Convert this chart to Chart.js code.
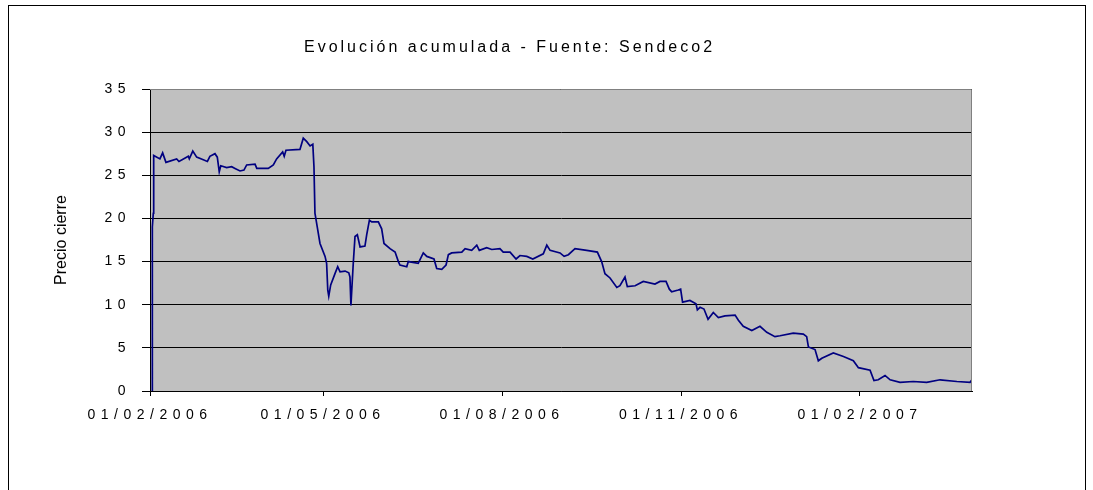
<!DOCTYPE html>
<html lang="es">
<head>
<meta charset="utf-8">
<title>Evolución acumulada - Fuente: Sendeco2</title>
<script src="https://cdn.jsdelivr.net/npm/chart.js@4.4.1/dist/chart.umd.min.js"></script>
<style>
  html, body { margin: 0; padding: 0; background: #fff; }
  canvas { display: block; }
</style>
</head>
<body>
<canvas id="grafico" width="1093" height="490"></canvas>
<script>
// Días transcurridos desde el 01/02/2006
var dias = [1.2, 1.2, 1.7, 1.9, 5.1, 6.5, 8.2, 13.7, 14.9, 19.7, 20.2, 22.0, 24.0, 27.4, 29.5, 30.8, 33.4, 34.6, 35.6, 36.4,
    39.4, 42.0, 43.7, 46.3, 48.3, 49.7, 54.0, 54.9, 60.8, 63.4, 65.1, 68.2, 69.0, 69.9, 77.1, 78.8, 80.6, 82.3, 83.7, 84.3,
    84.8, 86.0, 87.4, 90.0, 90.8, 91.4, 91.9, 92.9, 95.1, 96.5, 97.7, 100.3, 102.2, 102.8, 103.3, 104.5, 105.4, 106.6, 108.0, 110.5,
    111.4, 112.8, 114.0, 117.4, 119.1, 120.3, 123.4, 126.0, 127.7, 128.5, 132.0, 132.8, 137.9, 140.5, 142.3, 146.0, 147.4, 150.0, 152.2, 153.4,
    155.1, 160.3, 162.0, 165.4, 168.0, 169.3, 173.1, 175.7, 179.9, 181.6, 185.1, 188.2, 190.2, 193.7, 196.8, 202.2, 204.0, 205.7, 210.8, 212.9,
    215.1, 218.5, 224.5, 230.0, 232.2, 233.9, 236.5, 240.0, 241.6, 244.2, 245.4, 249.4, 253.6, 259.6, 262.2, 265.3, 267.0, 268.2, 271.6, 272.8,
    273.8, 277.6, 280.7, 281.4, 282.8, 284.8, 286.9, 289.6, 292.2, 295.6, 300.8, 302.5, 305.0, 309.4, 313.6, 317.1, 321.3, 323.9, 330.7, 335.9,
    337.6, 338.5, 341.9, 343.6, 345.4, 351.3, 356.5, 361.6, 364.2, 370.2, 372.2, 374.4, 377.9, 380.5, 385.6, 392.4, 399.3, 406.2, 414.8, 421.6,
    422.6];

// Precio de cierre en cada uno de esos días
var precios = [0, 19.0, 20.6, 27.3, 26.9, 27.6, 26.5, 26.9, 26.6, 27.2, 26.9, 27.8, 27.1, 26.8, 26.6, 27.2, 27.5, 27.1, 25.4, 26.1,
    25.9, 26.0, 25.8, 25.5, 25.6, 26.2, 26.3, 25.8, 25.8, 26.2, 26.9, 27.7, 27.2, 27.9, 28.0, 29.3, 28.9, 28.4, 28.6, 26.0,
    20.6, 19.0, 17.1, 15.6, 14.8, 11.7, 11.0, 12.3, 13.6, 14.4, 13.8, 13.9, 13.7, 13.2, 9.9, 14.8, 17.9, 18.1, 16.7, 16.8,
    18.1, 19.8, 19.6, 19.6, 18.8, 17.1, 16.5, 16.1, 15.0, 14.6, 14.4, 15.0, 14.8, 16.0, 15.6, 15.3, 14.2, 14.1, 14.6, 15.8,
    16.0, 16.1, 16.5, 16.3, 16.9, 16.3, 16.6, 16.4, 16.5, 16.1, 16.1, 15.3, 15.7, 15.6, 15.3, 15.9, 16.9, 16.3, 16.0, 15.6,
    15.8, 16.5, 16.3, 16.1, 15.0, 13.6, 13.1, 12.0, 12.2, 13.2, 12.1, 12.2, 12.7, 12.4, 12.7, 12.7, 11.8, 11.5, 11.7, 11.8,
    10.3, 10.5, 10.1, 9.4, 9.7, 9.5, 8.3, 9.1, 8.5, 8.7, 8.8, 8.2, 7.5, 7.0, 7.5, 6.8, 6.3, 6.4, 6.7, 6.6,
    6.3, 5.1, 4.8, 3.5, 3.8, 4.4, 4.0, 3.5, 2.7, 2.4, 1.2, 1.3, 1.8, 1.3, 1.0, 1.1, 1.0, 1.3, 1.1, 1.0,
    1.3];

// Marcas del eje de fechas
var diasEtiqueta = [0, 89, 181, 273, 365];
var etiquetasFecha = ['01/02/2006', '01/05/2006', '01/08/2006', '01/11/2006', '01/02/2007'];

var fuente = '"Liberation Sans", Arial, sans-serif';
Chart.defaults.font.family = fuente;
Chart.defaults.color = '#000';

// Fondo gris del área, marco exterior y título del eje vertical
var pluginFondo = {
    id: 'fondo',
    beforeDraw: function(chart) {
        var ctx = chart.ctx;
        var a = chart.chartArea;
        ctx.save();
        ctx.fillStyle = '#c0c0c0';
        ctx.fillRect(a.left, a.top, a.right - a.left, a.bottom - a.top);
        ctx.restore();
        // las etiquetas de los ejes van espaciadas
        ctx.letterSpacing = '5.5px';
    },
    afterDraw: function(chart) {
        var ctx = chart.ctx;
        var a = chart.chartArea;
        ctx.letterSpacing = '0px';
        ctx.save();
        ctx.strokeStyle = '#808080';
        ctx.lineWidth = 1;
        ctx.beginPath();
        ctx.moveTo(a.left, a.top + 0.5);
        ctx.lineTo(a.right - 0.5, a.top + 0.5);
        ctx.lineTo(a.right - 0.5, a.bottom);
        ctx.stroke();
        ctx.strokeStyle = '#000';
        ctx.strokeRect(8.5, 5.5, 1077, 600);
        ctx.translate(62, 240);
        ctx.rotate(-Math.PI / 2);
        ctx.font = '16px ' + fuente;
        ctx.textAlign = 'center';
        ctx.textBaseline = 'middle';
        ctx.fillStyle = '#000';
        ctx.fillText('Precio cierre', 0, 0);
        ctx.restore();
    }
};

var puntos = dias.map(function(d, i) {
    return { x: d, y: precios[i] };
});

var configuracion = {
    type: 'line',
    data: {
        datasets: [{
            label: 'Precio cierre',
            data: puntos,
            borderColor: '#000080',
            borderWidth: 1.7,
            pointRadius: 0,
            tension: 0,
            fill: false
        }]
    },
    options: {
        responsive: false,
        animation: false,
        layout: { padding: { top: 38, left: 100, right: 121, bottom: 49 } },
        plugins: {
            legend: { display: false },
            tooltip: { enabled: false },
            title: {
                display: true,
                text: 'Evolución acumulada - Fuente: Sendeco2',
                font: { size: 16, weight: 'normal' },
                color: '#000',
                padding: { top: 0, bottom: 31.8 }
            }
        },
        scales: {
            x: {
                type: 'linear',
                min: 0,
                max: 422.6,
                afterBuildTicks: function(scale) {
                    scale.ticks = diasEtiqueta.map(function(v) { return { value: v }; });
                },
                afterFit: function(scale) { scale.height = 50; },
                grid: { drawOnChartArea: false, drawTicks: true, tickLength: 5, color: '#000' },
                border: { display: true, color: '#000' },
                ticks: {
                    autoSkip: false,
                    maxRotation: 0,
                    padding: 11,
                    font: { size: 14 },
                    callback: function(value) {
                        var i = diasEtiqueta.indexOf(value);
                        return i >= 0 ? etiquetasFecha[i] : '';
                    }
                }
            },
            y: {
                min: 0,
                max: 35,
                afterFit: function(scale) { scale.width = 50; },
                grid: { color: '#000', tickLength: 8 },
                border: { display: true, color: '#000' },
                ticks: { stepSize: 5, padding: 11, font: { size: 14 } }
            }
        }
    },
    plugins: [pluginFondo]
};

var grafico = new Chart(document.getElementById('grafico').getContext('2d'), configuracion);

// El título lleva otro espaciado y está algo desplazado a la izquierda
var bloque = grafico.titleBlock;
var dibujarTitulo = bloque.draw;
bloque.draw = function() {
    var ctx = this.ctx;
    ctx.save();
    ctx.letterSpacing = '3px';
    ctx.translate(508 + 1.5 - (this.left + this.right) / 2, 0);
    dibujarTitulo.apply(this, arguments);
    ctx.restore();
};
grafico.draw();
</script>
</body>
</html>
